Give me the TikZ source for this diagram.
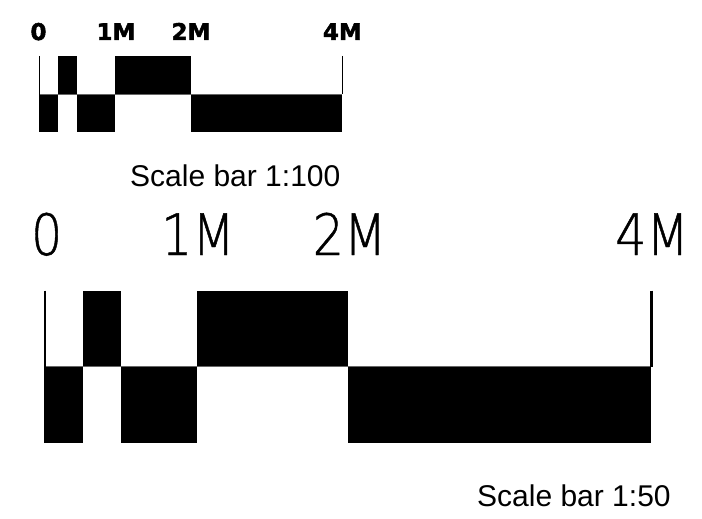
\documentclass[tikz,border=0pt]{standalone}
\usepackage{fontspec}
\setmainfont{Liberation Sans}
\newfontfamily\smalllabfont[BoldFeatures={FakeBold=2}]{DejaVu Sans}
\newfontfamily\biglabfont[FakeStretch=0.86, FakeBold=0.8]{DejaVu Sans ExtraLight}
\tikzset{
  smalllab/.style={anchor=base, inner sep=0pt, font=\smalllabfont\bfseries\fontsize{23}{23}\selectfont},
  biglab/.style={anchor=base, inner sep=0pt, font=\biglabfont\fontsize{57}{57}\selectfont},
  caption/.style={anchor=base west, inner sep=0pt, font=\fontsize{30}{30}\selectfont},
  midline/.style={line width=0.8pt, draw=black!60},
}
\begin{document}
\begin{tikzpicture}[x=1pt, y=-1pt]
\useasboundingbox (0,0) rectangle (702,519);
% small scale bar 1:100
\begin{scope}[shift={(39.5,56)}, x=75.7pt, y=-38pt]
  \fill (0.25,0) rectangle (0.5,1);
  \fill (1,0) rectangle (2,1);
  \fill (0,1) rectangle (0.25,2);
  \fill (0.5,1) rectangle (1,2);
  \fill (2,1) rectangle (4,2);
  \draw[midline] (0,1) -- (4,1);
  \draw[line width=1.5pt] (0,0) -- (0,2);
  \draw[line width=1.5pt] (4,0) -- (4,1);
\end{scope}
\node[smalllab] (s0) at (38.5,40) {0};
\node[smalllab] (s1) at (116,40) {1M};
\node[smalllab] (s2) at (191,40) {2M};
\node[smalllab] (s4) at (342.4,40) {4M};
\node[caption] (c1) at (130,186) {Scale bar 1:100};
% large scale bar 1:50
\begin{scope}[shift={(45,290.5)}, x=151.5pt, y=-76.2pt]
  \fill (0.25,0) rectangle (0.5,1);
  \fill (1,0) rectangle (2,1);
  \fill (0,1) rectangle (0.25,2);
  \fill (0.5,1) rectangle (1,2);
  \fill (2,1) rectangle (4,2);
  \draw[midline] (0,1) -- (4,1);
  \draw[line width=2.7pt] (0,0) -- (0,2);
  \draw[line width=3pt] (4,0) -- (4,1);
\end{scope}
\node[biglab] (b0) at (46.7,255) {0};
\node[biglab] (b1) at (198,255) {1M};
\node[biglab] (b2) at (349.5,255) {2M};
\node[biglab] (b4) at (652,255) {4M};
\node[caption] (c2) at (477,506) {Scale bar 1:50};
\end{tikzpicture}
\end{document}
